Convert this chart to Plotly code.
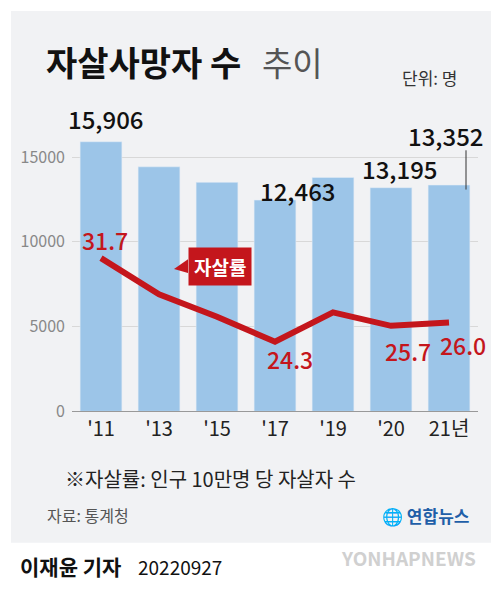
import plotly.graph_objects as go

years = ["'11", "'13", "'15", "'17", "'19", "'20", "21년"]
deaths = [15906, 14427, 13513, 12463, 13799, 13195, 13352]
rate = [31.7, 28.5, 26.5, 24.3, 26.9, 25.7, 26.0]
yticks = [0, 5000, 10000, 15000]

W, H = 499, 591
def px(x): return x / W
def py(y): return 1 - y / H

fig = go.Figure()
fig.add_trace(go.Bar(x=years, y=deaths, marker_color="#9cc5e8", width=0.72, yaxis="y"))
fig.add_trace(go.Scatter(x=years, y=rate, mode="lines", yaxis="y2",
                         line=dict(color="#c4161c", width=6)))

font = "Noto Sans CJK KR"
ann = []
def txt(x, y, s, size, color="#111", weight="normal", xa="center"):
    ann.append(dict(x=px(x), y=py(y), xref="paper", yref="paper", text=s, showarrow=False,
                    xanchor=xa, yanchor="middle",
                    font=dict(family=font, size=size, color=color, weight=weight)))

txt(36, 55, "자살사망자 수", 34, "#111", "bold", "left")
txt(252, 55, "추이", 33, "#555", "normal", "left")
txt(392, 71, "단위: 명", 17, "#333", "normal", "left")
# bar value labels
txt(98, 113, "15,906", 24, "#111", 500)
txt(290, 186, "12,463", 24, "#111", 500)
txt(392, 164, "13,195", 24, "#111", 500)
txt(438, 130, "13,352", 24, "#111", 500)
# rate labels
txt(97, 236, "31.7", 23, "#c4161c", 500)
txt(282, 358, "24.3", 23, "#c4161c", 500)
txt(400, 350, "25.7", 23, "#c4161c", 500)
txt(455, 343, "26.0", 23, "#c4161c", 500)
# series tag
ann.append(dict(x=px(212), y=py(263), xref="paper", yref="paper", text="자살률", showarrow=False,
                bgcolor="#c4161c", borderpad=5, font=dict(family=font, size=19, color="white", weight="bold")))
txt(55, 479, "※자살률: 인구 10만명 당 자살자 수", 20, "#222", "normal", "left")
txt(37, 517, "자료: 통계청", 16, "#555", "normal", "left")
txt(372, 517, "🌐 연합뉴스", 17, "#1f5fa8", "bold", "left")
txt(10, 569, "이재윤 기자", 21, "#111", "bold", "left")
txt(128, 569, "20220927", 19, "#111", "normal", "left")
txt(400, 560, "YONHAPNEWS", 19, "#d0d0d0", "bold", "center")

shapes = [
    dict(type="rect", xref="paper", yref="paper", x0=px(3), x1=px(495), y0=py(545), y1=py(3),
         fillcolor="#f1f2f4", line_width=0, layer="below"),
    dict(type="line", xref="paper", yref="paper", x0=px(458), x1=px(458), y0=py(145), y1=py(185),
         line=dict(color="#333", width=1)),
    dict(type="path", xref="paper", yref="paper",
         path=f"M {px(180)} {py(256)} L {px(166)} {py(266)} L {px(180)} {py(270)} Z",
         fillcolor="#c4161c", line_width=0),
]

fig.update_layout(
    width=W, height=H, margin=dict(l=0, r=0, t=0, b=0),
    paper_bgcolor="white", plot_bgcolor="rgba(0,0,0,0)", showlegend=False,
    xaxis=dict(domain=[px(64), px(470)], tickfont=dict(family=font, size=20, color="#222"),
               showline=True, linecolor="#999", ticks="", showgrid=False),
    yaxis=dict(domain=[py(411), py(125)], range=[0, 16560], tickvals=yticks,
               ticktext=[str(v) for v in yticks],
               tickfont=dict(family=font, size=16, color="#888"), gridcolor="#d8d8d8",
               zeroline=False, ticklabelstandoff=6),
    yaxis2=dict(overlaying="y", range=[18.12, 43.0], visible=False),
    annotations=ann, shapes=shapes,
)
fig.write_html("out.html")
